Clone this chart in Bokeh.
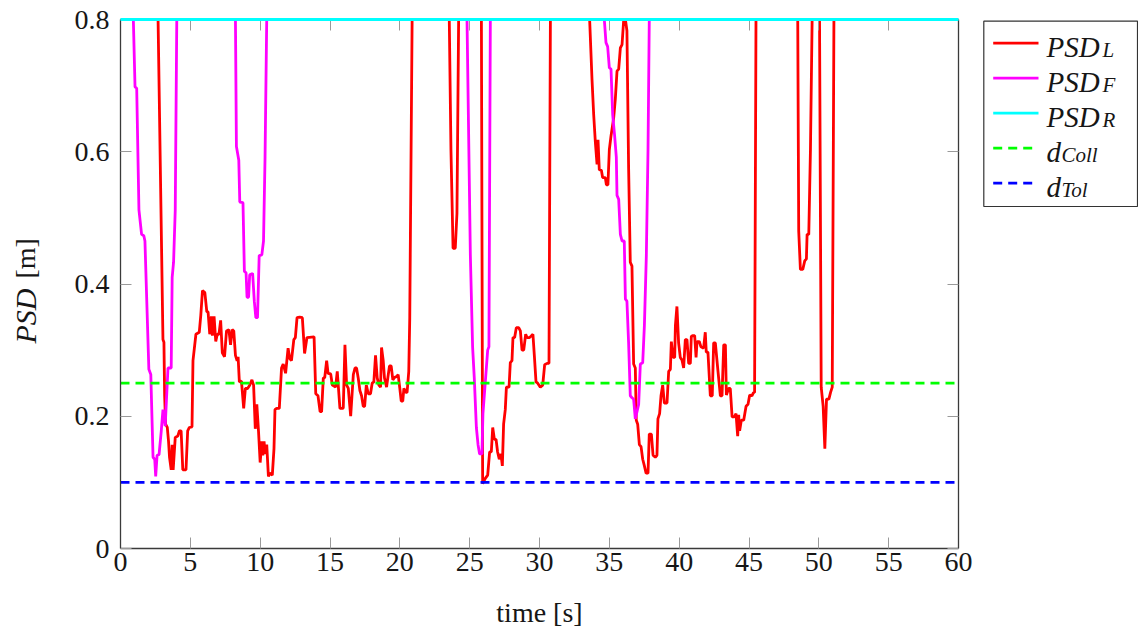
from math import pi

from bokeh.core.properties import value
from bokeh.embed import file_html
from bokeh.layouts import row
from bokeh.models import FixedTicker, LinearAxis, Range1d
from bokeh.plotting import figure
from bokeh.resources import INLINE

# ---------------------------------------------------------------- data
# time stamps [s] and distances [m]; sensor readings saturate at 0.8 m
t_L = [0.00, 2.69, 3.04, 3.11, 3.16, 3.23, 3.35, 3.44, 3.51, 3.63, 3.70, 3.77, 3.92, 4.10, 4.22, 4.34,
       4.46, 4.69, 4.81, 4.93, 5.12, 5.19, 5.40, 5.64, 5.75, 5.87, 6.04, 6.18, 6.27, 6.39, 6.51, 6.58,
       6.70, 6.82, 6.93, 7.05, 7.17, 7.29, 7.45, 7.59, 7.76, 7.88, 8.00, 8.11, 8.23, 8.35, 8.42, 8.51,
       8.66, 8.82, 8.94, 9.10, 9.25, 9.41, 9.53, 9.65, 9.76, 9.88, 10.00, 10.12, 10.19, 10.28, 10.35, 10.47,
       10.59, 10.71, 10.87, 10.99, 11.06, 11.18, 11.37, 11.53, 11.65, 11.82, 12.00, 12.12, 12.24, 12.41, 12.52, 12.64,
       12.83, 13.02, 13.18, 13.35, 13.86, 13.98, 14.14, 14.29, 14.40, 14.52, 14.62, 14.76, 14.86, 15.05, 15.17, 15.40,
       15.52, 15.71, 15.95, 16.07, 16.19, 16.31, 16.48, 16.67, 16.79, 16.90, 17.02, 17.14, 17.26, 17.38, 17.48, 17.60,
       17.74, 17.90, 18.02, 18.14, 18.26, 18.38, 18.50, 18.62, 18.69, 18.81, 18.90, 19.05, 19.14, 19.26, 19.38, 19.50,
       19.64, 19.76, 19.88, 20.00, 20.10, 20.21, 20.29, 20.43, 20.52, 20.64, 20.71, 20.88, 23.54, 23.66, 23.81, 23.97,
       24.09, 24.21, 25.84, 25.93, 26.12, 26.29, 26.43, 26.55, 26.65, 26.77, 26.89, 27.00, 27.12, 27.24, 27.34, 27.43,
       27.55, 27.63, 27.82, 27.91, 28.03, 28.10, 28.22, 28.34, 28.51, 28.63, 28.75, 28.87, 29.01, 29.11, 29.27, 29.39,
       29.53, 29.63, 29.75, 29.87, 30.06, 30.23, 30.37, 30.54, 30.68, 30.78, 33.59, 33.76, 33.88, 34.00, 34.12, 34.19,
       34.28, 34.43, 34.52, 34.71, 34.79, 34.90, 35.00, 35.12, 35.31, 35.43, 35.55, 35.67, 35.79, 35.91, 36.03, 36.15,
       36.26, 36.38, 36.50, 36.62, 36.74, 36.86, 36.93, 37.03, 37.15, 37.27, 37.39, 37.51, 37.63, 37.77, 37.86, 38.01,
       38.13, 38.29, 38.41, 38.48, 38.60, 38.70, 38.82, 38.94, 39.13, 39.25, 39.37, 39.44, 39.56, 39.68, 39.73, 39.84,
       39.96, 40.08, 40.20, 40.32, 40.44, 40.56, 40.68, 40.80, 40.87, 40.99, 41.11, 41.21, 41.28, 41.44, 41.56, 41.75,
       41.87, 41.94, 42.06, 42.23, 42.37, 42.47, 42.59, 42.78, 42.95, 43.07, 43.19, 43.31, 43.38, 43.54, 43.66, 43.79,
       43.95, 44.07, 44.19, 44.26, 44.33, 44.45, 44.62, 44.79, 44.93, 45.05, 45.21, 45.33, 45.40, 45.50, 48.49, 48.56,
       48.68, 48.85, 48.99, 49.11, 49.16, 49.28, 49.40, 49.52, 50.05, 50.17, 50.31, 50.43, 50.55, 50.72, 50.84, 50.96,
       51.08, 60.00]
psd_L = [0.800, 0.800, 0.316, 0.312, 0.231, 0.188, 0.183, 0.162, 0.138, 0.119, 0.157, 0.119, 0.168, 0.170, 0.178, 0.178,
         0.119, 0.119, 0.178, 0.183, 0.184, 0.284, 0.324, 0.327, 0.353, 0.390, 0.387, 0.358, 0.358, 0.324, 0.351, 0.322,
         0.351, 0.313, 0.324, 0.324, 0.345, 0.296, 0.290, 0.329, 0.331, 0.308, 0.331, 0.329, 0.292, 0.284, 0.290, 0.252,
         0.253, 0.212, 0.242, 0.242, 0.247, 0.255, 0.247, 0.181, 0.218, 0.178, 0.130, 0.162, 0.141, 0.162, 0.143, 0.157,
         0.109, 0.114, 0.111, 0.151, 0.210, 0.212, 0.212, 0.273, 0.279, 0.265, 0.303, 0.287, 0.284, 0.316, 0.319, 0.349,
         0.350, 0.349, 0.295, 0.319, 0.320, 0.234, 0.231, 0.207, 0.207, 0.258, 0.258, 0.284, 0.265, 0.264, 0.247, 0.244,
         0.268, 0.212, 0.212, 0.308, 0.247, 0.242, 0.200, 0.263, 0.273, 0.273, 0.258, 0.239, 0.231, 0.215, 0.215, 0.247,
         0.234, 0.234, 0.250, 0.252, 0.292, 0.258, 0.247, 0.244, 0.304, 0.284, 0.258, 0.244, 0.258, 0.276, 0.276, 0.255,
         0.259, 0.260, 0.263, 0.242, 0.223, 0.223, 0.242, 0.236, 0.236, 0.268, 0.348, 0.800, 0.800, 0.603, 0.454, 0.454,
         0.507, 0.800, 0.800, 0.098, 0.106, 0.111, 0.146, 0.146, 0.183, 0.165, 0.165, 0.146, 0.135, 0.143, 0.125, 0.188,
         0.210, 0.244, 0.244, 0.281, 0.284, 0.319, 0.319, 0.334, 0.334, 0.329, 0.300, 0.300, 0.324, 0.319, 0.319, 0.321,
         0.324, 0.292, 0.252, 0.250, 0.244, 0.247, 0.278, 0.280, 0.280, 0.800, 0.800, 0.709, 0.656, 0.614, 0.581, 0.618,
         0.573, 0.572, 0.561, 0.561, 0.550, 0.550, 0.603, 0.624, 0.651, 0.680, 0.722, 0.725, 0.757, 0.762, 0.800, 0.800,
         0.783, 0.576, 0.433, 0.427, 0.279, 0.273, 0.194, 0.188, 0.157, 0.154, 0.135, 0.125, 0.114, 0.114, 0.173, 0.173,
         0.141, 0.138, 0.141, 0.196, 0.204, 0.231, 0.247, 0.220, 0.220, 0.268, 0.271, 0.313, 0.289, 0.289, 0.337, 0.366,
         0.311, 0.289, 0.285, 0.273, 0.316, 0.316, 0.280, 0.280, 0.321, 0.322, 0.322, 0.289, 0.313, 0.313, 0.305, 0.303,
         0.327, 0.297, 0.297, 0.231, 0.231, 0.311, 0.311, 0.268, 0.231, 0.231, 0.308, 0.308, 0.232, 0.242, 0.242, 0.199,
         0.199, 0.204, 0.170, 0.202, 0.178, 0.194, 0.194, 0.215, 0.218, 0.232, 0.231, 0.236, 0.236, 0.800, 0.800, 0.480,
         0.422, 0.422, 0.435, 0.438, 0.475, 0.475, 0.603, 0.800, 0.800, 0.244, 0.215, 0.151, 0.226, 0.226, 0.236, 0.244,
         0.800, 0.800]

t_F = [0.00, 0.92, 1.04, 1.16, 1.32, 1.51, 1.67, 1.75, 2.03, 2.17, 2.33, 2.45, 2.52, 2.62, 2.76, 2.92,
       3.04, 3.20, 3.40, 3.63, 3.70, 3.80, 3.92, 4.03, 8.23, 8.30, 8.47, 8.54, 8.77, 8.87, 8.99, 9.06,
       9.17, 9.25, 9.46, 9.58, 9.69, 9.81, 9.93, 10.12, 10.24, 10.35, 10.47, 24.81, 25.05, 25.21, 25.33, 25.48,
       25.60, 25.71, 25.88, 25.95, 26.12, 26.29, 26.38, 26.48, 34.64, 34.76, 34.88, 35.00, 35.12, 35.24, 35.38, 35.50,
       35.55, 35.67, 35.79, 35.91, 36.07, 36.15, 36.26, 36.38, 36.50, 36.62, 36.74, 36.86, 37.10, 37.22, 37.39, 37.51,
       37.65, 37.77, 37.86, 60.00]
psd_F = [0.800, 0.800, 0.698, 0.696, 0.512, 0.475, 0.473, 0.465, 0.271, 0.263, 0.138, 0.135, 0.109, 0.141, 0.142, 0.178,
         0.210, 0.185, 0.273, 0.273, 0.410, 0.433, 0.512, 0.800, 0.800, 0.608, 0.587, 0.524, 0.523, 0.419, 0.417, 0.380,
         0.380, 0.414, 0.416, 0.374, 0.349, 0.349, 0.443, 0.444, 0.465, 0.592, 0.800, 0.800, 0.443, 0.305, 0.258, 0.183,
         0.157, 0.143, 0.143, 0.204, 0.252, 0.300, 0.305, 0.800, 0.800, 0.765, 0.759, 0.727, 0.725, 0.656, 0.624, 0.592,
         0.534, 0.528, 0.475, 0.465, 0.465, 0.377, 0.374, 0.311, 0.231, 0.228, 0.226, 0.196, 0.218, 0.279, 0.281, 0.337,
         0.443, 0.603, 0.800, 0.800]

t_R = [0.0, 60.0]
psd_R = [0.8, 0.8]

t_lim = [0.0, 60.0]
d_coll = [0.25, 0.25]
d_tol = [0.10, 0.10]

x_ticks = [0, 5, 10, 15, 20, 25, 30, 35, 40, 45, 50, 55, 60]
y_ticks = [0.0, 0.2, 0.4, 0.6, 0.8]
y_tick_labels = ["0", "0.2", "0.4", "0.6", "0.8"]

# ---------------------------------------------------------------- style
SERIF = "Liberation Serif"
RED, MAGENTA, CYAN, GREEN, BLUE = "#ff0000", "#ff00ff", "#00ffff", "#00ff00", "#0000ff"
AXIS_COLOR = "#3a3a3a"
TICK_COLOR = "#9a9a9a"
TEXT_COLOR = "#161616"
DASH = "9 6"
LW = 2.8

H = 632            # canvas height shared by all panels
TOP, BOTTOM = 19, 84
FRAME_H = H - TOP - BOTTOM
LABEL_W = 60       # strip holding the vertical axis title
MAIN_W = 922
LEG_W = 156


def strip(width):
    """A bare panel whose data units are pixels, used for titles and the key."""
    f = figure(width=width, height=H, x_range=Range1d(0, width), y_range=Range1d(0, FRAME_H),
               output_backend="svg", toolbar_location=None,
               x_axis_location=None, y_axis_location=None,
               min_border_left=0, min_border_right=0,
               min_border_top=TOP, min_border_bottom=BOTTOM)
    f.xgrid.visible = False
    f.ygrid.visible = False
    f.outline_line_color = None
    f.background_fill_color = None
    f.border_fill_color = "white"
    return f


# ---------------------------------------------------------------- main axes
p = figure(width=MAIN_W, height=H,
           x_range=Range1d(0, 60), y_range=Range1d(0, 0.8),
           output_backend="svg", toolbar_location=None,
           min_border_left=LABEL_W, min_border_right=24,
           min_border_top=TOP, min_border_bottom=BOTTOM)
p.xgrid.visible = False
p.ygrid.visible = False
p.outline_line_color = None
p.background_fill_color = "white"
p.border_fill_color = "white"

p.add_layout(LinearAxis(), "above")
p.add_layout(LinearAxis(), "right")

for ax in p.xaxis:
    ax.ticker = FixedTicker(ticks=x_ticks)
for ax in p.yaxis:
    ax.ticker = FixedTicker(ticks=y_ticks)

for ax in p.axis:
    ax.axis_line_color = AXIS_COLOR
    ax.axis_line_width = 1.3
    ax.major_tick_in = 11
    ax.major_tick_out = 0
    ax.major_tick_line_color = TICK_COLOR
    ax.major_tick_line_width = 1
    ax.minor_tick_line_color = None
    ax.major_label_text_font = SERIF
    ax.major_label_text_font_size = "28px"
    ax.major_label_text_color = TEXT_COLOR

xb = p.below[0]
xb.major_label_standoff = 4
xb.axis_label = "time [s]"
xb.axis_label_text_font = SERIF
xb.axis_label_text_font_style = "normal"
xb.axis_label_text_font_size = "28px"
xb.axis_label_text_color = TEXT_COLOR
xb.axis_label_standoff = 23

yl = p.left[0]
yl.major_label_standoff = 11
yl.major_label_overrides = dict(zip(y_ticks, y_tick_labels))

# mirrored tick marks on top and right, without labels
p.above[0].major_label_overrides = {t: "" for t in x_ticks}
p.right[0].major_label_overrides = {t: "" for t in y_ticks}
for ax in (p.above[0], p.right[0]):
    ax.major_label_text_font_size = "0px"
    ax.major_label_standoff = 0

# curves
p.line(t_L, psd_L, line_color=RED, line_width=LW)
p.line(t_F, psd_F, line_color=MAGENTA, line_width=LW)
p.line(t_R, psd_R, line_color=CYAN, line_width=LW, level="overlay")
p.line(t_lim, d_coll, line_color=GREEN, line_width=LW, line_dash=DASH)
p.line(t_lim, d_tol, line_color=BLUE, line_width=LW, line_dash=DASH)

# ---------------------------------------------------------------- vertical axis title
ylab = strip(LABEL_W)
ylab.text(x=[25], y=[205], text=["PSD"], angle=pi / 2, text_font=value(SERIF),
          text_font_style="italic", text_font_size="30px", text_color=TEXT_COLOR,
          text_baseline="alphabetic")
ylab.text(x=[25], y=[270], text=["[m]"], angle=pi / 2, text_font=value(SERIF),
          text_font_style="normal", text_font_size="28px", text_color=TEXT_COLOR,
          text_baseline="alphabetic")

# ---------------------------------------------------------------- key
leg = strip(LEG_W)
leg.quad(left=[1.3], right=[155], top=[FRAME_H - 1.7], bottom=[342],
         fill_color="white", line_color="#333333", line_width=1.2)

entries = [
    ("PSD", "L", RED, None),
    ("PSD", "F", MAGENTA, None),
    ("PSD", "R", CYAN, None),
    ("d", "Coll", GREEN, DASH),
    ("d", "Tol", BLUE, DASH),
]
for i, (main, sub, color, dash) in enumerate(entries):
    yc = 505.3 - 35 * i
    x_end = 56 if dash is None else 51
    kw = {} if dash is None else {"line_dash": dash}
    leg.line([10.7, x_end], [yc, yc], line_color=color, line_width=LW, **kw)
    yb = yc - 3.5
    leg.text(x=[64], y=[yb], text=[main], text_font=value(SERIF), text_font_style="italic",
             text_font_size="29px", text_color=TEXT_COLOR, text_baseline="alphabetic")
    sub_x = 120 if main == "PSD" else 79
    leg.text(x=[sub_x], y=[yb - 3], text=[sub], text_font=value(SERIF), text_font_style="italic",
             text_font_size="21px", text_color=TEXT_COLOR, text_baseline="alphabetic")

layout = row(ylab, p, leg, spacing=0)
open("out.html", "w").write(file_html(layout, INLINE))
